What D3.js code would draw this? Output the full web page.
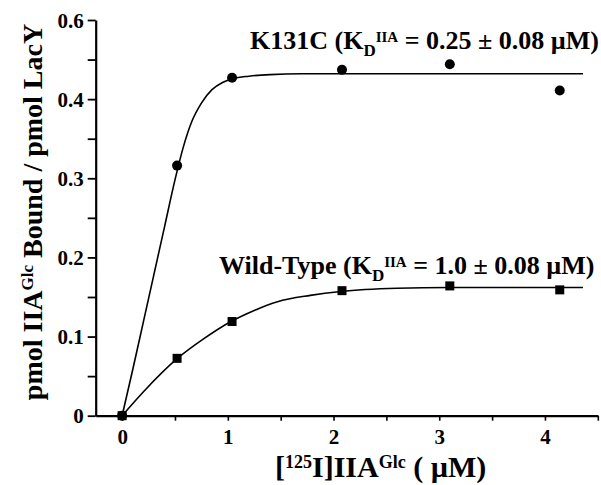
<!DOCTYPE html>
<html>
<head>
<meta charset="utf-8">
<script src="https://cdn.jsdelivr.net/npm/d3@7"></script>
<style>
  body { margin: 0; background: #fff; }
  svg { display: block; font-family: "Liberation Serif", "Times New Roman", serif; font-weight: bold; }
</style>
</head>
<body>
<div class="chart"></div>
<script>
// measured points (x in uM, y in pmol IIA bound / pmol LacY)
var concX = [0, 0.52, 1.04, 2.08, 3.1, 4.14];
var k131cY = [0, 0.316, 0.427, 0.437, 0.444, 0.411];
var wildY = [0, 0.0725, 0.119, 0.158, 0.164, 0.159];

// fitted curves
var k131cFitX = [0, 0.1, 0.2, 0.3, 0.4, 0.5, 0.58, 0.66, 0.75, 0.85, 0.95, 1.05, 1.2, 1.4, 1.7, 2.2, 4.36];
var k131cFitY = [0, 0.058, 0.118, 0.178, 0.238, 0.298, 0.34, 0.372, 0.395, 0.412, 0.421, 0.426, 0.429, 0.431, 0.432, 0.432, 0.432];
var wildFitX = [0, 0.2, 0.52, 0.77, 1.03, 1.25, 1.47, 1.78, 2.07, 2.6, 3.1, 4.36];
var wildFitY = [0, 0.03, 0.072, 0.097, 0.119, 0.133, 0.144, 0.152, 0.157, 0.161, 0.162, 0.162];

var xTicks = [0, 0.5, 1, 1.5, 2, 2.5, 3, 3.5, 4, 4.5];
var xTickLabels = ["0", "", "1", "", "2", "", "3", "", "4", ""];
var yTicks = [0, 0.05, 0.1, 0.15, 0.2, 0.25, 0.3, 0.35, 0.4, 0.45, 0.5];
var yTickLabels = ["0", "", "0.1", "", "0.2", "", "0.3", "", "0.4", "", "0.6"];

var W = 601, H = 485;
var mLeft = 95.7, mTop = 20, mBottom = 415.7, mRight = 597.8;

var svg = d3.select('div.chart').append('svg')
  .attr('width', W).attr('height', H);

var x = d3.scaleLinear().domain([-0.25, 4.5]).range([mLeft, mRight]);
var y = d3.scaleLinear().domain([0, 0.5]).range([mBottom, mTop]);

// axes
var xAxis = d3.axisBottom(x).tickValues(xTicks).tickSize(5).tickSizeOuter(0)
  .tickFormat(function(d, i) { return xTickLabels[i]; });
var gx = svg.append('g').attr('transform', 'translate(0,' + mBottom + ')').call(xAxis)
  .attr('font-family', null).attr('font-size', 21);
gx.select('.domain').attr('stroke-width', 2.2);
gx.selectAll('line').attr('stroke-width', 1.6);
gx.selectAll('text').attr('y', 28).attr('dy', 0);

var yAxis = d3.axisLeft(y).tickValues(yTicks).tickSize(8).tickSizeOuter(0)
  .tickFormat(function(d, i) { return yTickLabels[i]; });
var gy = svg.append('g').attr('transform', 'translate(' + mLeft + ',0)').call(yAxis)
  .attr('font-family', null).attr('font-size', 21);
gy.select('.domain').attr('stroke-width', 2.2);
gy.selectAll('line').attr('stroke-width', 1.8);
gy.selectAll('text').attr('x', -12).attr('dy', '0.34em');

// curves
var line = d3.line()
  .x(function(d) { return x(d[0]); })
  .y(function(d) { return y(d[1]); })
  .curve(d3.curveMonotoneX);

svg.append('path').datum(d3.zip(k131cFitX, k131cFitY))
  .attr('d', line).attr('fill', 'none').attr('stroke', '#000').attr('stroke-width', 1.6);
svg.append('path').datum(d3.zip(wildFitX, wildFitY))
  .attr('d', line).attr('fill', 'none').attr('stroke', '#000').attr('stroke-width', 1.6);

// markers
svg.selectAll('rect.wt').data(d3.zip(concX, wildY)).enter().append('rect')
  .attr('class', 'wt')
  .attr('x', function(d) { return x(d[0]) - 4.5; })
  .attr('y', function(d) { return y(d[1]) - 4.5; })
  .attr('width', 9).attr('height', 9).attr('fill', '#000');

svg.selectAll('circle.k131c').data(d3.zip(concX, k131cY)).enter().append('circle')
  .attr('class', 'k131c')
  .attr('cx', function(d) { return x(d[0]); })
  .attr('cy', function(d) { return y(d[1]); })
  .attr('r', 5).attr('fill', '#000');

// text with sub/superscripts
function richText(g, parts) {
  parts.forEach(function(p) {
    g.append('tspan').attr('font-size', p.s).attr('dy', p.dy || 0).text(p.t);
  });
  return g;
}

richText(svg.append('text').attr('x', 250).attr('y', 49.3), [
  {t: 'K131C (K', s: 26},
  {t: 'D', s: 17, dy: 7},
  {t: 'IIA', s: 15, dy: -14},
  {t: ' = 0.25 \u00b1 0.08 \u00b5M)', s: 26, dy: 7}
]);

richText(svg.append('text').attr('x', 219).attr('y', 274.3), [
  {t: 'Wild-Type (K', s: 26},
  {t: 'D', s: 17, dy: 7},
  {t: 'IIA', s: 15, dy: -14},
  {t: ' = 1.0 \u00b1 0.08 \u00b5M)', s: 26, dy: 7}
]);

richText(svg.append('text').attr('x', 275).attr('y', 477), [
  {t: '[', s: 30},
  {t: '125', s: 18, dy: -9},
  {t: 'I]IIA', s: 30, dy: 9},
  {t: 'Glc', s: 18, dy: -9},
  {t: ' ( \u00b5M)', s: 30, dy: 9}
]);

richText(svg.append('text')
  .attr('transform', 'translate(41.7,' + 212 + ') rotate(-90)')
  .attr('text-anchor', 'middle'), [
  {t: 'pmol IIA', s: 28},
  {t: 'Glc', s: 17, dy: -9},
  {t: ' Bound / pmol LacY', s: 28, dy: 9}
]);
</script>
</body>
</html>
